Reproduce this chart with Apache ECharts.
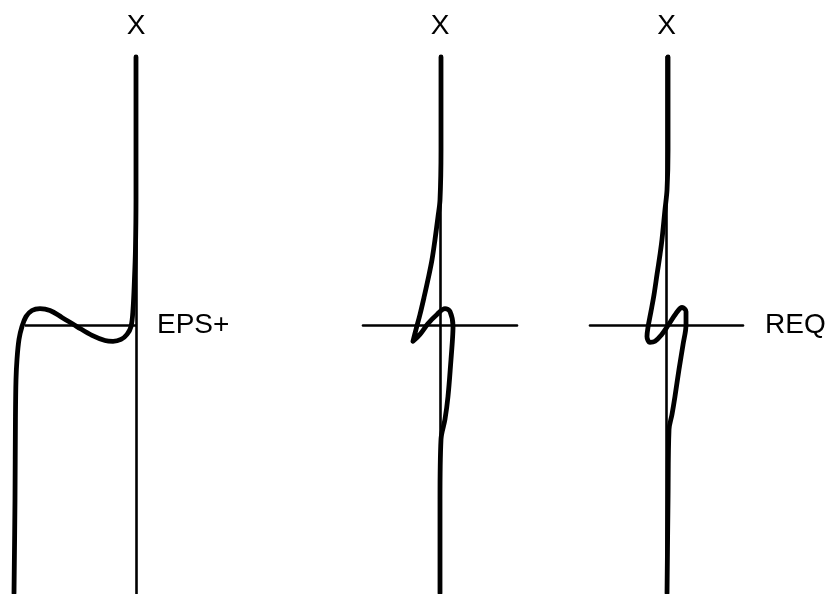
<!DOCTYPE html>
<html>
<head>
<meta charset="utf-8">
<script src="https://cdn.jsdelivr.net/npm/echarts@6/dist/echarts.min.js"></script>
<style>
  html, body { margin: 0; padding: 0; background: #fff; }
  #chart { width: 833px; height: 594px; }
</style>
</head>
<body>
<div id="chart"></div>
<script>
// Axis captions
const axisTitle = 'X';
const panelLabels = ['EPS+', '', 'REQ'];

// Baseline extent of the first panel (x from .. to, at y = 0)
const eps1Baseline = [-1, 0];

// Panel 1: cubic-like trace with a small wiggle around the baseline
const eps1X = [-1.099, -1.090, -1.086, -1.081, -1.072, -1.054, -1.027, -0.991, -0.937, -0.865,
               -0.775, -0.667, -0.532, -0.396, -0.279, -0.207, -0.135, -0.081, -0.045, -0.027,
               -0.014, -0.005, 0.000, 0.000];
const eps1Y = [-0.996, -0.647, -0.349, -0.201, -0.126, -0.052, -0.004, 0.033, 0.056, 0.063,
               0.056, 0.030, -0.004, -0.037, -0.056, -0.059, -0.052, -0.033, -0.004, 0.059,
               0.171, 0.283, 0.468, 1.000];

// Panel 2: trace folding back on itself with a cusp left of the axis
const mid2X = [0.013, 0.013, 0.000, -0.026, -0.065, -0.104, -0.156, -0.208, -0.260, -0.312,
               -0.351, -0.260, -0.156, -0.039, 0.065, 0.130, 0.169, 0.162, 0.143, 0.104,
               0.065, 0.013, 0.000, 0.000];
const mid2Y = [1.000, 0.654, 0.468, 0.405, 0.320, 0.245, 0.171, 0.104, 0.041, -0.015,
               -0.059, -0.033, 0.007, 0.041, 0.063, 0.052, -0.004, -0.052, -0.126, -0.264,
               -0.349, -0.424, -0.647, -0.996];

// Panel 3: trace with a closed loop through the origin
const req3X = [0.020, 0.020, 0.007, -0.020, -0.059, -0.085, -0.124, -0.163, -0.203, -0.242,
               -0.255, -0.216, -0.150, -0.072, 0.020, 0.124, 0.203, 0.255, 0.255, 0.216,
               0.163, 0.111, 0.072, 0.033, 0.020, 0.007];
const req3Y = [1.000, 0.654, 0.506, 0.431, 0.320, 0.264, 0.190, 0.115, 0.052, -0.007,
               -0.041, -0.063, -0.059, -0.037, 0.000, 0.045, 0.067, 0.052, 0.004, -0.071,
               -0.164, -0.264, -0.331, -0.387, -0.647, -0.996];

const zip = (xs, ys) => xs.map((x, i) => [x, ys[i]]);

const chart = echarts.init(document.getElementById('chart'), null, { renderer: 'canvas' });

const textStyle = { fontFamily: 'Liberation Sans', fontSize: 28, color: '#000' };
const axisLineStyle = { color: '#000', width: 2.6 };
const traceStyle = { color: '#000', width: 4.8, cap: 'round', join: 'round' };

// One grid per panel; the vertical axis of each sits at x = 0
const grids = [
  { left: 13, width: 123, top: 57, height: 538 },
  { left: 363, width: 154, top: 57, height: 538 },
  { left: 590, width: 153, top: 57, height: 538 }
];
const xRanges = [[-1.108, 0], [-1, 1], [-1, 1]];
const showXLine = [false, true, true];
const nameGaps = [21, 21, 22];

const xAxes = grids.map((g, i) => ({
  type: 'value', gridIndex: i, min: xRanges[i][0], max: xRanges[i][1],
  axisLine: { show: showXLine[i], onZero: true, lineStyle: axisLineStyle },
  axisTick: { show: false }, axisLabel: { show: false }, splitLine: { show: false },
  name: i === 0 ? '' : panelLabels[i], nameLocation: 'end', nameGap: nameGaps[i],
  nameTextStyle: Object.assign({ verticalAlign: 'middle' }, textStyle)
}));

const yAxes = grids.map((g, i) => ({
  type: 'value', gridIndex: i, min: -1, max: 1,
  axisLine: { show: true, onZero: true, lineStyle: axisLineStyle },
  axisTick: { show: false }, axisLabel: { show: false }, splitLine: { show: false },
  name: axisTitle, nameLocation: 'end', nameGap: 17,
  nameTextStyle: textStyle
}));

const traces = [zip(eps1X, eps1Y), zip(mid2X, mid2Y), zip(req3X, req3Y)];

const series = traces.map((d, i) => ({
  type: 'line', xAxisIndex: i, yAxisIndex: i, data: d,
  smooth: 0.35, symbol: 'none', clip: false, silent: true,
  lineStyle: traceStyle
}));

// Baseline of the first panel stops at its vertical axis, with its caption at the end
series.push({
  type: 'line', xAxisIndex: 0, yAxisIndex: 0, silent: true, symbol: 'none',
  data: eps1Baseline.map(x => [x, 0]),
  lineStyle: { color: '#000', width: 2.6 },
  endLabel: {
    show: true, formatter: panelLabels[0], distance: 21,
    fontFamily: textStyle.fontFamily, fontSize: textStyle.fontSize, color: '#000'
  },
  z: 1
});

chart.setOption({
  animation: false,
  backgroundColor: '#fff',
  grid: grids,
  xAxis: xAxes,
  yAxis: yAxes,
  series: series
});
</script>
</body>
</html>
